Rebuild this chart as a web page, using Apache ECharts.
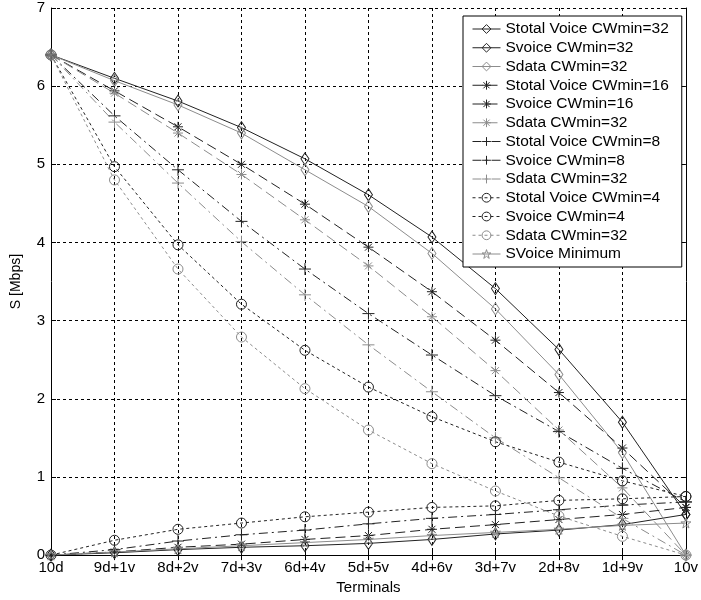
<!DOCTYPE html>
<html>
<head>
<meta charset="utf-8">
<script src="https://cdn.jsdelivr.net/npm/echarts@6/dist/echarts.min.js"></script>
<style>html,body{margin:0;padding:0;background:#fff;}#c{width:701px;height:600px;}</style>
</head>
<body>
<div id="c"></div>
<script>
const categories = ['10d','9d+1v','8d+2v','7d+3v','6d+4v','5d+5v','4d+6v','3d+7v','2d+8v','1d+9v','10v'];
const yTicks = [0,1,2,3,4,5,6,7];

const stotal32 = [6.4, 6.10, 5.81, 5.47, 5.07, 4.61, 4.07, 3.41, 2.63, 1.70, 0.52];
const svoice32 = [0, 0.03, 0.07, 0.10, 0.12, 0.15, 0.20, 0.27, 0.32, 0.39, 0.52];
const sdata32  = [6.4, 6.07, 5.76, 5.40, 4.93, 4.46, 3.86, 3.15, 2.31, 1.31, 0];

const stotal16 = [6.4, 5.94, 5.48, 5.00, 4.49, 3.94, 3.37, 2.75, 2.08, 1.37, 0.61];
const svoice16 = [0, 0.04, 0.10, 0.14, 0.20, 0.25, 0.33, 0.39, 0.455, 0.52, 0.61];
const sdata16  = [6.4, 5.91, 5.40, 4.87, 4.29, 3.70, 3.05, 2.36, 1.60, 0.86, 0];

const stotal8 = [6.4, 5.62, 4.93, 4.27, 3.66, 3.09, 2.56, 2.04, 1.58, 1.11, 0.68];
const svoice8 = [0, 0.07, 0.18, 0.26, 0.32, 0.40, 0.47, 0.52, 0.58, 0.64, 0.68];
const sdata8  = [6.4, 5.54, 4.76, 4.01, 3.33, 2.69, 2.09, 1.50, 0.99, 0.47, 0];

const stotal4 = [6.4, 4.97, 3.97, 3.21, 2.62, 2.15, 1.77, 1.45, 1.19, 0.95, 0.75];
const svoice4 = [0, 0.19, 0.33, 0.41, 0.49, 0.55, 0.61, 0.63, 0.70, 0.72, 0.75];
const sdata4  = [6.4, 4.80, 3.66, 2.79, 2.13, 1.60, 1.17, 0.82, 0.50, 0.24, 0];

const svoiceMin = [0, 0.04, 0.08, 0.12, 0.16, 0.20, 0.25, 0.29, 0.33, 0.38, 0.41];

const DARK = '#222';
const GRAY = '#8c8c8c';
const FONT = 'Liberation Sans, Arial, sans-serif';

const SYM_DIAMOND = 'path://M0,-6L4,0L0,6L-4,0Z';
const SYM_STAR = 'path://M0,-5L0,5M-5,0L5,0M-3.5,-3.5L3.5,3.5M-3.5,3.5L3.5,-3.5';
const SYM_PLUS = 'path://M0,-6L0,6M-6,0L6,0';
const SYM_PENTA = 'path://M0,-1L0.223,-0.307L0.951,-0.309L0.361,0.117L0.588,0.809L0,0.38L-0.588,0.809L-0.361,0.117L-0.951,-0.309L-0.223,-0.307Z';

function mk(name, data, color, dash, symbol, size) {
  return {
    name: name,
    type: 'line',
    data: data,
    xAxisIndex: 0,
    yAxisIndex: 0,
    symbol: symbol,
    symbolSize: size,
    showAllSymbol: true,
    lineStyle: { color: color, width: 1, type: dash },
    itemStyle: { color: 'transparent', borderColor: color, borderWidth: 1 },
    emphasis: { disabled: true },
    z: 3
  };
}

const D16 = [10, 5];
const D8 = [9, 4, 2, 4];
const D4 = [3, 3];

const series = [
  mk('Stotal Voice CWmin=32', stotal32, DARK, 'solid', SYM_DIAMOND, [8, 12]),
  mk('Svoice CWmin=32', svoice32, DARK, 'solid', SYM_DIAMOND, [8, 12]),
  mk('Sdata CWmin=32 ', sdata32, GRAY, 'solid', SYM_DIAMOND, [8, 12]),
  mk('Stotal Voice CWmin=16', stotal16, DARK, D16, SYM_STAR, 10),
  mk('Svoice CWmin=16', svoice16, DARK, D16, SYM_STAR, 10),
  mk('Sdata CWmin=32  ', sdata16, GRAY, D16, SYM_STAR, 10),
  mk('Stotal Voice CWmin=8', stotal8, DARK, D8, SYM_PLUS, 12),
  mk('Svoice CWmin=8', svoice8, DARK, D8, SYM_PLUS, 12),
  mk('Sdata CWmin=32   ', sdata8, GRAY, D8, SYM_PLUS, 12),
  mk('Stotal Voice CWmin=4', stotal4, DARK, D4, 'circle', 10),
  mk('Svoice CWmin=4', svoice4, DARK, D4, 'circle', 10),
  mk('Sdata CWmin=32    ', sdata4, GRAY, D4, 'circle', 10),
  mk('SVoice Minimum', svoiceMin, GRAY, 'solid', SYM_PENTA, 10)
];

const chart = echarts.init(document.getElementById('c'), null, { renderer: 'canvas' });
chart.setOption({
  animation: false,
  backgroundColor: '#fff',
  grid: { left: 51, right: 11, top: 8, bottom: 44, containLabel: false },
  legend: {
    orient: 'vertical',
    left: 463,
    top: 16,
    backgroundColor: '#fff',
    borderColor: '#000',
    borderWidth: 1,
    borderRadius: 0,
    padding: [5, 13, 5, 9],
    itemWidth: 28,
    itemHeight: 11,
    itemGap: 2.75,
    selectedMode: false,
    itemStyle: { color: 'transparent', borderWidth: 1 },
    lineStyle: { width: 1 },
    textStyle: { fontSize: 15.5, fontFamily: FONT, color: '#000' },
    formatter: function (n) { return n.trim(); },
    data: series.map(s => s.name)
  },
  xAxis: [
    {
      type: 'category',
      data: categories,
      boundaryGap: false,
      position: 'bottom',
      name: 'Terminals',
      nameLocation: 'middle',
      nameGap: 23,
      nameTextStyle: { fontSize: 15, fontFamily: FONT, color: '#000' },
      axisLine: { show: true, lineStyle: { color: '#000', width: 1 } },
      axisTick: { show: true, inside: true, length: 5, alignWithLabel: true, lineStyle: { color: '#000' } },
      axisLabel: { fontSize: 15, fontFamily: FONT, color: '#000', margin: 5, interval: 0 },
      splitLine: { show: true, lineStyle: { color: '#000', type: [3, 3], width: 1 } }
    },
    {
      type: 'category',
      data: categories,
      boundaryGap: false,
      position: 'top',
      axisLine: { show: true, lineStyle: { color: '#000', width: 1 } },
      axisTick: { show: true, inside: true, length: 5, lineStyle: { color: '#000' } },
      axisLabel: { show: false },
      splitLine: { show: false }
    }
  ],
  yAxis: [
    {
      type: 'value',
      min: 0,
      max: 7,
      interval: 1,
      position: 'left',
      name: 'S [Mbps]',
      nameLocation: 'middle',
      nameGap: 28,
      nameRotate: 90,
      nameTextStyle: { fontSize: 14, fontFamily: FONT, color: '#000' },
      axisLine: { show: true, lineStyle: { color: '#000', width: 1 } },
      axisTick: { show: true, inside: true, length: 5, lineStyle: { color: '#000' } },
      axisLabel: { fontSize: 15, fontFamily: FONT, color: '#000', margin: 6,
        formatter: function (v) { return yTicks.indexOf(v) >= 0 ? String(v) : ''; } },
      splitLine: { show: true, lineStyle: { color: '#000', type: [3, 3], width: 1 } }
    },
    {
      type: 'value',
      min: 0,
      max: 7,
      interval: 1,
      position: 'right',
      axisLine: { show: true, lineStyle: { color: '#000', width: 1 } },
      axisTick: { show: true, inside: true, length: 5, lineStyle: { color: '#000' } },
      axisLabel: { show: false },
      splitLine: { show: false }
    }
  ],
  series: series
});
</script>
</body>
</html>
